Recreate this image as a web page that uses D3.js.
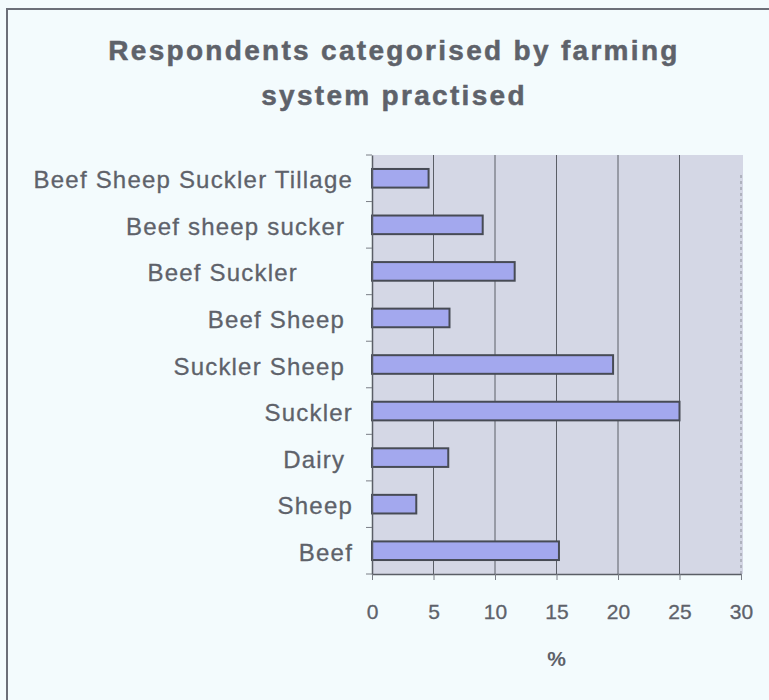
<!DOCTYPE html>
<html>
<head>
<meta charset="utf-8">
<script src="https://cdn.jsdelivr.net/npm/d3@7"></script>
<style>
  html, body { margin: 0; padding: 0; background: #f3fbfd; }
  svg { display: block; }
  text { font-family: "Liberation Sans", Arial, sans-serif; fill: #5e626a; white-space: pre; }
</style>
</head>
<body>
<script>
// Farming systems (top to bottom) and share of respondents, in %
const categories = [
  "Beef Sheep Suckler Tillage",
  "Beef sheep sucker ",
  "Beef Suckler       ",
  "Beef Sheep ",
  "Suckler Sheep ",
  "Suckler",
  "Dairy ",
  "Sheep",
  "Beef"
];
const percentages = [4.6, 9.0, 11.6, 6.3, 19.6, 25.0, 6.2, 3.6, 15.2];
const xTicks = [0, 5, 10, 15, 20, 25, 30];
const titleLines = ["Respondents categorised by farming", "system practised"];
const xAxisTitle = "%";

const W = 769, H = 700;
const plot = { left: 372, right: 741, top: 155, bottom: 574 };

const svg = d3.select("body").append("svg")
  .attr("width", W).attr("height", H);

// chart frame (top and left edges)
svg.append("path")
  .attr("d", `M7,${H} L7,9 L${W},9`)
  .attr("fill", "none")
  .attr("stroke", "#6b6f78")
  .attr("stroke-width", 2);

// title
svg.selectAll("text.title").data(titleLines).enter().append("text")
  .attr("class", "title")
  .attr("x", 394)
  .attr("y", (d, i) => 60 + i * 45)
  .attr("text-anchor", "middle")
  .style("font-size", "28px")
  .style("font-weight", "bold")
  .style("letter-spacing", "2.3px")
  .style("stroke", "#5e626a")
  .style("stroke-width", "0.5px")
  .text(d => d);

const x = d3.scaleLinear().domain([0, 30]).range([plot.left, plot.right]);
const y = d3.scaleBand().domain(categories)
  .range([plot.top, plot.bottom])
  .paddingInner(0.6).paddingOuter(0.3);

// plot area
svg.append("rect")
  .attr("x", plot.left).attr("y", plot.top)
  .attr("width", plot.right - plot.left + 2)
  .attr("height", plot.bottom - plot.top)
  .attr("fill", "#d4d7e5");

// vertical gridlines
svg.append("g")
  .selectAll("line").data(xTicks.slice(1, -1)).enter().append("line")
  .attr("x1", d => x(d)).attr("x2", d => x(d))
  .attr("y1", plot.top).attr("y2", plot.bottom)
  .attr("stroke", "#5a5e66").attr("stroke-width", 1);
svg.append("line")
  .attr("x1", x(30)).attr("x2", x(30))
  .attr("y1", plot.top + 20).attr("y2", plot.bottom)
  .attr("stroke", "#8a8e98").attr("stroke-width", 1)
  .attr("stroke-dasharray", "3,3");

// bars
svg.append("g")
  .selectAll("rect").data(categories).enter().append("rect")
  .attr("x", x(0))
  .attr("y", d => y(d))
  .attr("width", (d, i) => x(percentages[i]) - x(0))
  .attr("height", y.bandwidth())
  .attr("fill", "#a3a8ee")
  .attr("stroke", "#474b55")
  .attr("stroke-width", 2);

// category axis
const yAxis = svg.append("g")
  .attr("transform", `translate(${plot.left},0)`)
  .call(d3.axisLeft(y).tickSize(0).tickPadding(19));
yAxis.select(".domain").attr("stroke", "#5a5e66").attr("stroke-width", 1.5);
yAxis.selectAll("text")
  .style("font-size", "24px")
  .style("letter-spacing", "1.2px")
  .style("stroke", "#5e626a")
  .style("stroke-width", "0.3px")
  .attr("fill", "#5e626a")
  .attr("dy", "0.42em");
// small ticks between categories
const step = y.step();
yAxis.append("g").selectAll("line")
  .data(d3.range(categories.length + 1)).enter().append("line")
  .attr("x1", -6).attr("x2", 0)
  .attr("y1", i => plot.top + i * step)
  .attr("y2", i => plot.top + i * step)
  .attr("stroke", "#7a7e86");

// value axis
const xAxis = svg.append("g")
  .attr("transform", `translate(0,${plot.bottom})`)
  .call(d3.axisBottom(x).tickValues(xTicks).tickSize(6).tickPadding(24).tickSizeOuter(0));
xAxis.select(".domain").attr("stroke", "#5a5e66").attr("stroke-width", 1.5);
xAxis.selectAll(".tick line").attr("stroke", "#7a7e86");
xAxis.selectAll("text")
  .style("font-size", "21px")
  .style("stroke", "#5e626a")
  .style("stroke-width", "0.3px")
  .attr("fill", "#5e626a");

svg.append("text")
  .attr("x", x(15)).attr("y", 666)
  .attr("text-anchor", "middle")
  .style("font-size", "21px")
  .style("font-weight", "bold")
  .text(xAxisTitle);
</script>
</body>
</html>
